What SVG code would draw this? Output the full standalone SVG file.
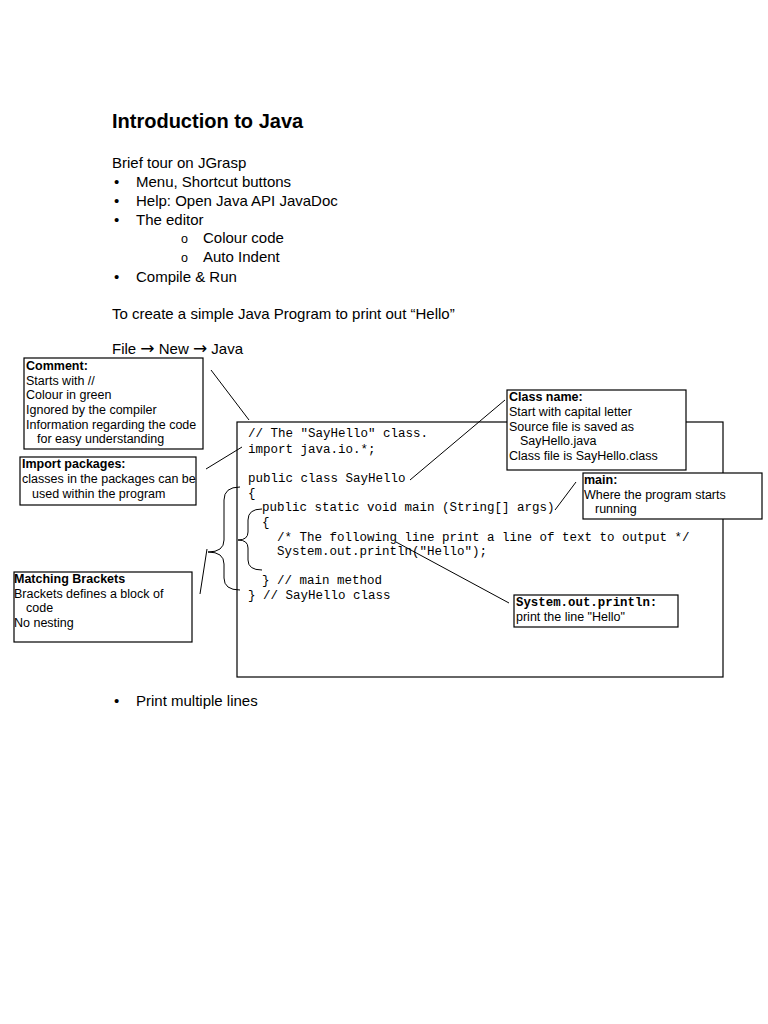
<svg xmlns="http://www.w3.org/2000/svg" width="768" height="1024" viewBox="0 0 768 1024">
<style>
.t{font-family:"Liberation Sans",Arial,sans-serif;font-size:15px;fill:#000}
.ar{font-family:"DejaVu Sans",sans-serif;font-size:17px}
.h{font-family:"Liberation Sans",Arial,sans-serif;font-size:20px;font-weight:bold;fill:#000}
.s{font-family:"Liberation Sans",Arial,sans-serif;font-size:12.5px;fill:#000}
.sb{font-family:"Liberation Sans",Arial,sans-serif;font-size:12.5px;font-weight:bold;fill:#000}
.c{font-family:"Liberation Mono","Courier New",monospace;font-size:12.5px;fill:#000}
.cb{font-family:"Liberation Mono","Courier New",monospace;font-size:12.4px;font-weight:bold;fill:#000}
.box{fill:#fff;stroke:#000;stroke-width:1.2}
.ln{fill:none;stroke:#000;stroke-width:1}
</style>
<rect width="768" height="1024" fill="#fff"/>
<g id="text">
<text class="h" x="112" y="128">Introduction to Java</text>
<text class="t" x="112" y="168">Brief tour on JGrasp</text>
<text class="t" x="114" y="187">•</text><text class="t" x="136" y="187">Menu, Shortcut buttons</text>
<text class="t" x="114" y="206">•</text><text class="t" x="136" y="206">Help: Open Java API JavaDoc</text>
<text class="t" x="114" y="225">•</text><text class="t" x="136" y="225">The editor</text>
<text class="s" x="181" y="243">o</text><text class="t" x="203" y="243">Colour code</text>
<text class="s" x="181" y="262">o</text><text class="t" x="203" y="262">Auto Indent</text>
<text class="t" x="114" y="282">•</text><text class="t" x="136" y="282">Compile &amp; Run</text>
<text class="t" x="112" y="319">To create a simple Java Program to print out “Hello”</text>
<text class="t" x="112" y="354">File <tspan class="ar">→</tspan> New <tspan class="ar">→</tspan> Java</text>
<text class="t" x="114" y="706">•</text><text class="t" x="136" y="706">Print multiple lines</text>
</g>
<g id="code">
<rect class="box" x="237" y="422" width="486" height="255"/>
<text class="c" x="248" y="437" xml:space="preserve">// The "SayHello" class.</text>
<text class="c" x="248" y="453">import java.io.*;</text>
<text class="c" x="248" y="482">public class SayHello</text>
<text class="c" x="248" y="497">{</text>
<text class="c" x="262" y="511">public static void main (String[] args)</text>
<text class="c" x="262" y="526">{</text>
<text class="c" x="277" y="541">/* The following line print a line of text to output */</text>
<text class="c" x="277" y="555">System.out.println("Hello");</text>
<text class="c" x="262" y="584">} // main method</text>
<text class="c" x="248" y="599">} // SayHello class</text>
</g>
<g id="connectors">
<line class="ln" x1="211" y1="370" x2="249" y2="420"/>
<line class="ln" x1="206" y1="469" x2="242" y2="447"/>
<line class="ln" x1="410" y1="480" x2="505" y2="400"/>
<line class="ln" x1="555" y1="510" x2="576" y2="482"/>
<line class="ln" x1="396" y1="542" x2="509" y2="603"/>
<path class="ln" d="M240,487 Q224,487 224,500 L224,540 Q224,552 208,552 Q224,552 224,564 L224,578 Q224,590 240,590"/>
<path class="ln" d="M262,509 Q248,509 248,520 L248,532 Q248,540 238,540 Q248,540 248,548 L248,560 Q248,570 262,570"/>
<line class="ln" x1="207" y1="549" x2="200" y2="594"/>
</g>
<g id="comment">
<rect class="box" x="24" y="358" width="179" height="91"/>
<text class="sb" x="26" y="370">Comment:</text>
<text class="s" x="26" y="385">Starts with //</text>
<text class="s" x="26" y="399">Colour in green</text>
<text class="s" x="26" y="414">Ignored by the compiler</text>
<text class="s" x="26" y="429">Information regarding the code</text>
<text class="s" x="37" y="443">for easy understanding</text>
</g>
<g id="import">
<rect class="box" x="20" y="457" width="176" height="48"/>
<text class="sb" x="22" y="468">Import packages:</text>
<text class="s" x="22" y="483">classes in the packages can be</text>
<text class="s" x="32" y="498">used within the program</text>
</g>
<g id="brackets">
<rect class="box" x="14" y="572" width="178" height="70"/>
<text class="sb" x="14" y="583">Matching Brackets</text>
<text class="s" x="14" y="598">Brackets defines a block of</text>
<text class="s" x="26" y="612">code</text>
<text class="s" x="14" y="627">No nesting</text>
</g>
<g id="classname">
<rect class="box" x="507" y="390" width="179" height="80"/>
<text class="sb" x="509" y="401">Class name:</text>
<text class="s" x="509" y="416">Start with capital letter</text>
<text class="s" x="509" y="431">Source file is saved as</text>
<text class="s" x="520" y="445">SayHello.java</text>
<text class="s" x="509" y="460">Class file is SayHello.class</text>
</g>
<g id="main">
<rect class="box" x="583" y="473" width="179" height="46"/>
<text class="sb" x="584" y="484">main:</text>
<text class="s" x="584" y="499">Where the program starts</text>
<text class="s" x="595" y="513">running</text>
</g>
<g id="println">
<rect class="box" x="514" y="595" width="164" height="32"/>
<text class="cb" x="516" y="606">System.out.println:</text>
<text class="s" x="516" y="621">print the line "Hello"</text>
</g>
</svg>
